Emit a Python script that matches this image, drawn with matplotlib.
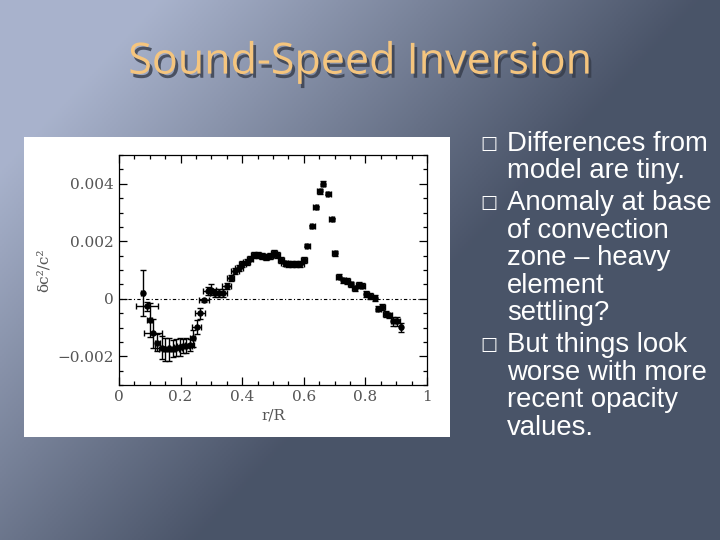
"""Sound-speed inversion slide: relative sound-speed difference vs r/R
"""
import numpy as np
import matplotlib
matplotlib.use('Agg')
import matplotlib.pyplot as plt
import matplotlib.patheffects as pe
from matplotlib.patches import Rectangle
from matplotlib.ticker import MultipleLocator, FuncFormatter

# data
radius = [0.077, 0.090, 0.100, 0.111, 0.124, 0.138, 0.150, 0.162, 0.175, 0.186,
          0.197, 0.208, 0.218, 0.229, 0.239, 0.252, 0.263, 0.276, 0.288, 0.300,
          0.311, 0.323, 0.336, 0.349, 0.362, 0.376, 0.389, 0.400, 0.414, 0.425,
          0.439, 0.452, 0.465, 0.477, 0.490, 0.503, 0.514, 0.525, 0.538, 0.549,
          0.562, 0.574, 0.587, 0.600, 0.611, 0.627, 0.639, 0.652, 0.663, 0.679,
          0.690, 0.700, 0.714, 0.728, 0.741, 0.752, 0.765, 0.778, 0.790, 0.803,
          0.816, 0.830, 0.841, 0.854, 0.866, 0.877, 0.890, 0.904, 0.915]
dc2 = [0.00020, -0.00026, -0.00074, -0.00120, -0.00153, -0.00170, -0.00176, -0.00176,
       -0.00174, -0.00170, -0.00168, -0.00165, -0.00163, -0.00160, -0.00138, -0.00099,
       -0.00051, -0.00005, 0.00027, 0.00032, 0.00020, 0.00020, 0.00020, 0.00044,
       0.00071, 0.00096, 0.00108, 0.00120, 0.00129, 0.00140, 0.00152, 0.00152,
       0.00150, 0.00145, 0.00150, 0.00160, 0.00152, 0.00134, 0.00123, 0.00122,
       0.00120, 0.00122, 0.00122, 0.00134, 0.00184, 0.00252, 0.00319, 0.00374,
       0.00400, 0.00366, 0.00276, 0.00158, 0.00077, 0.00064, 0.00061, 0.00050,
       0.00036, 0.00048, 0.00046, 0.00017, 0.00009, 0.00003, -0.00034, -0.00029,
       -0.00054, -0.00058, -0.00078, -0.00078, -0.00099]
radius_err = [0.005, 0.035, 0.008, 0.030, 0.008, 0.020, 0.020, 0.020, 0.020, 0.020,
              0.020, 0.020, 0.020, 0.015, 0.008, 0.015, 0.015, 0.015, 0.015, 0.015,
              0.015, 0.015, 0.015, 0.015, 0.012, 0.012, 0.012, 0.012, 0.012, 0.010,
              0.010, 0.010, 0.010, 0.010, 0.010, 0.010, 0.010, 0.010, 0.012, 0.012,
              0.012, 0.012, 0.012, 0.010, 0.008, 0.008, 0.008, 0.008, 0.006, 0.008,
              0.008, 0.008, 0.008, 0.008, 0.008, 0.008, 0.008, 0.008, 0.008, 0.008,
              0.008, 0.006, 0.008, 0.008, 0.008, 0.008, 0.008, 0.008, 0.004]
dc2_err = [0.00080, 0.00015, 0.00060, 0.00050, 0.00030, 0.00040, 0.00040, 0.00040,
           0.00030, 0.00030, 0.00030, 0.00025, 0.00025, 0.00020, 0.00030, 0.00025,
           0.00020, 0.00005, 0.00015, 0.00020, 0.00015, 0.00015, 0.00015, 0.00010,
           0.00010, 0.00010, 0.00010, 0.00010, 0.00010, 0.00010, 0.00010, 0.00010,
           0.00010, 0.00010, 0.00010, 0.00010, 0.00010, 0.00010, 0.00010, 0.00010,
           0.00010, 0.00010, 0.00010, 0.00010, 0.00005, 0.00005, 0.00005, 0.00008,
           0.00008, 0.00005, 0.00005, 0.00008, 0.00008, 0.00008, 0.00010, 0.00010,
           0.00010, 0.00010, 0.00010, 0.00010, 0.00010, 0.00010, 0.00010, 0.00010,
           0.00010, 0.00010, 0.00015, 0.00015, 0.00015]

title = 'Sound-Speed Inversion'
bullets = [
    ['Differences from', 'model are tiny.'],
    ['Anomaly at base', 'of convection', 'zone \u2013 heavy', 'element', 'settling?'],
    ['But things look', 'worse with more', 'recent opacity', 'values.'],
]

fig = plt.figure(figsize=(7.2, 5.4), dpi=100)

# slide background: diagonal grey-blue gradient
bg = fig.add_axes([0, 0, 1, 1])
gx, gy = np.meshgrid(np.linspace(0, 1, 360), np.linspace(0, 1, 270))
d = np.clip((gx + 0.7 * gy - 0.22) / 0.75, 0, 1)
light = np.array([0.66, 0.70, 0.80])
dark = np.array([0.29, 0.33, 0.41])
img = light[None, None, :] * (1 - d[..., None]) + dark[None, None, :] * d[..., None]
bg.imshow(img, aspect='auto', extent=[0, 1, 0, 1], origin='upper')
bg.set_axis_off()

# title with drop shadow
fig.text(0.5, 0.885, title, ha='center', va='center', fontsize=31,
         family='Open Sans', color='#f5c57e',
         path_effects=[pe.withSimplePatchShadow(offset=(2, -3), shadow_rgbFace='#363c4a',
                                                alpha=0.8)])

# white box that holds the plot
fig.patches.append(Rectangle((0.033, 0.191), 0.592, 0.555, transform=fig.transFigure,
                             facecolor='white', edgecolor='none', zorder=1))

ax = fig.add_axes([0.1653, 0.287, 0.4278, 0.4259], zorder=2)
ax.set_facecolor('white')
ax.errorbar(radius, dc2, xerr=radius_err, yerr=dc2_err, fmt='o', color='black',
            markersize=3.6, elinewidth=1.0, capsize=2, capthick=1.0)
ax.axhline(0, color='black', lw=0.8, ls=(0, (3, 2, 1, 2)))
ax.set_xlim(0, 1)
ax.set_ylim(-0.003, 0.005)
ax.xaxis.set_major_locator(MultipleLocator(0.2))
ax.xaxis.set_minor_locator(MultipleLocator(0.05))
ax.yaxis.set_major_locator(MultipleLocator(0.002))
ax.yaxis.set_minor_locator(MultipleLocator(0.0005))
ax.xaxis.set_major_formatter(FuncFormatter(lambda v, p: '%g' % round(v, 3)))
ax.yaxis.set_major_formatter(FuncFormatter(
    lambda v, p: '0' if abs(v) < 1e-9 else ('%.3f' % v).replace('-', '\u2212')))
ax.tick_params(which='both', direction='in', top=True, right=True,
               labelsize=11, labelcolor='#555555', width=0.9)
ax.tick_params(which='major', length=6)
ax.tick_params(which='minor', length=3)
for lbl in ax.get_xticklabels() + ax.get_yticklabels():
    lbl.set_family('DejaVu Serif')
for s in ax.spines.values():
    s.set_linewidth(0.9)
ax.set_xlabel('r/R', family='DejaVu Serif', fontsize=11, color='#555555', labelpad=3)
ax.set_ylabel('\u03b4c\u00b2/c\u00b2', family='DejaVu Serif', fontsize=11,
              color='#555555', labelpad=5)

# bullet list on the right
y = 0.734
step = 0.0508
gap = 0.009
for lines in bullets:
    fig.text(0.667, y, '\u25a1', fontsize=13, family='DejaVu Sans', color='white',
             va='center', ha='left')
    for line in lines:
        fig.text(0.704, y, line, fontsize=19.8, family='Liberation Sans', color='white',
                 va='center', ha='left')
        y -= step
    y -= gap

fig.savefig('out.png', dpi=100)
